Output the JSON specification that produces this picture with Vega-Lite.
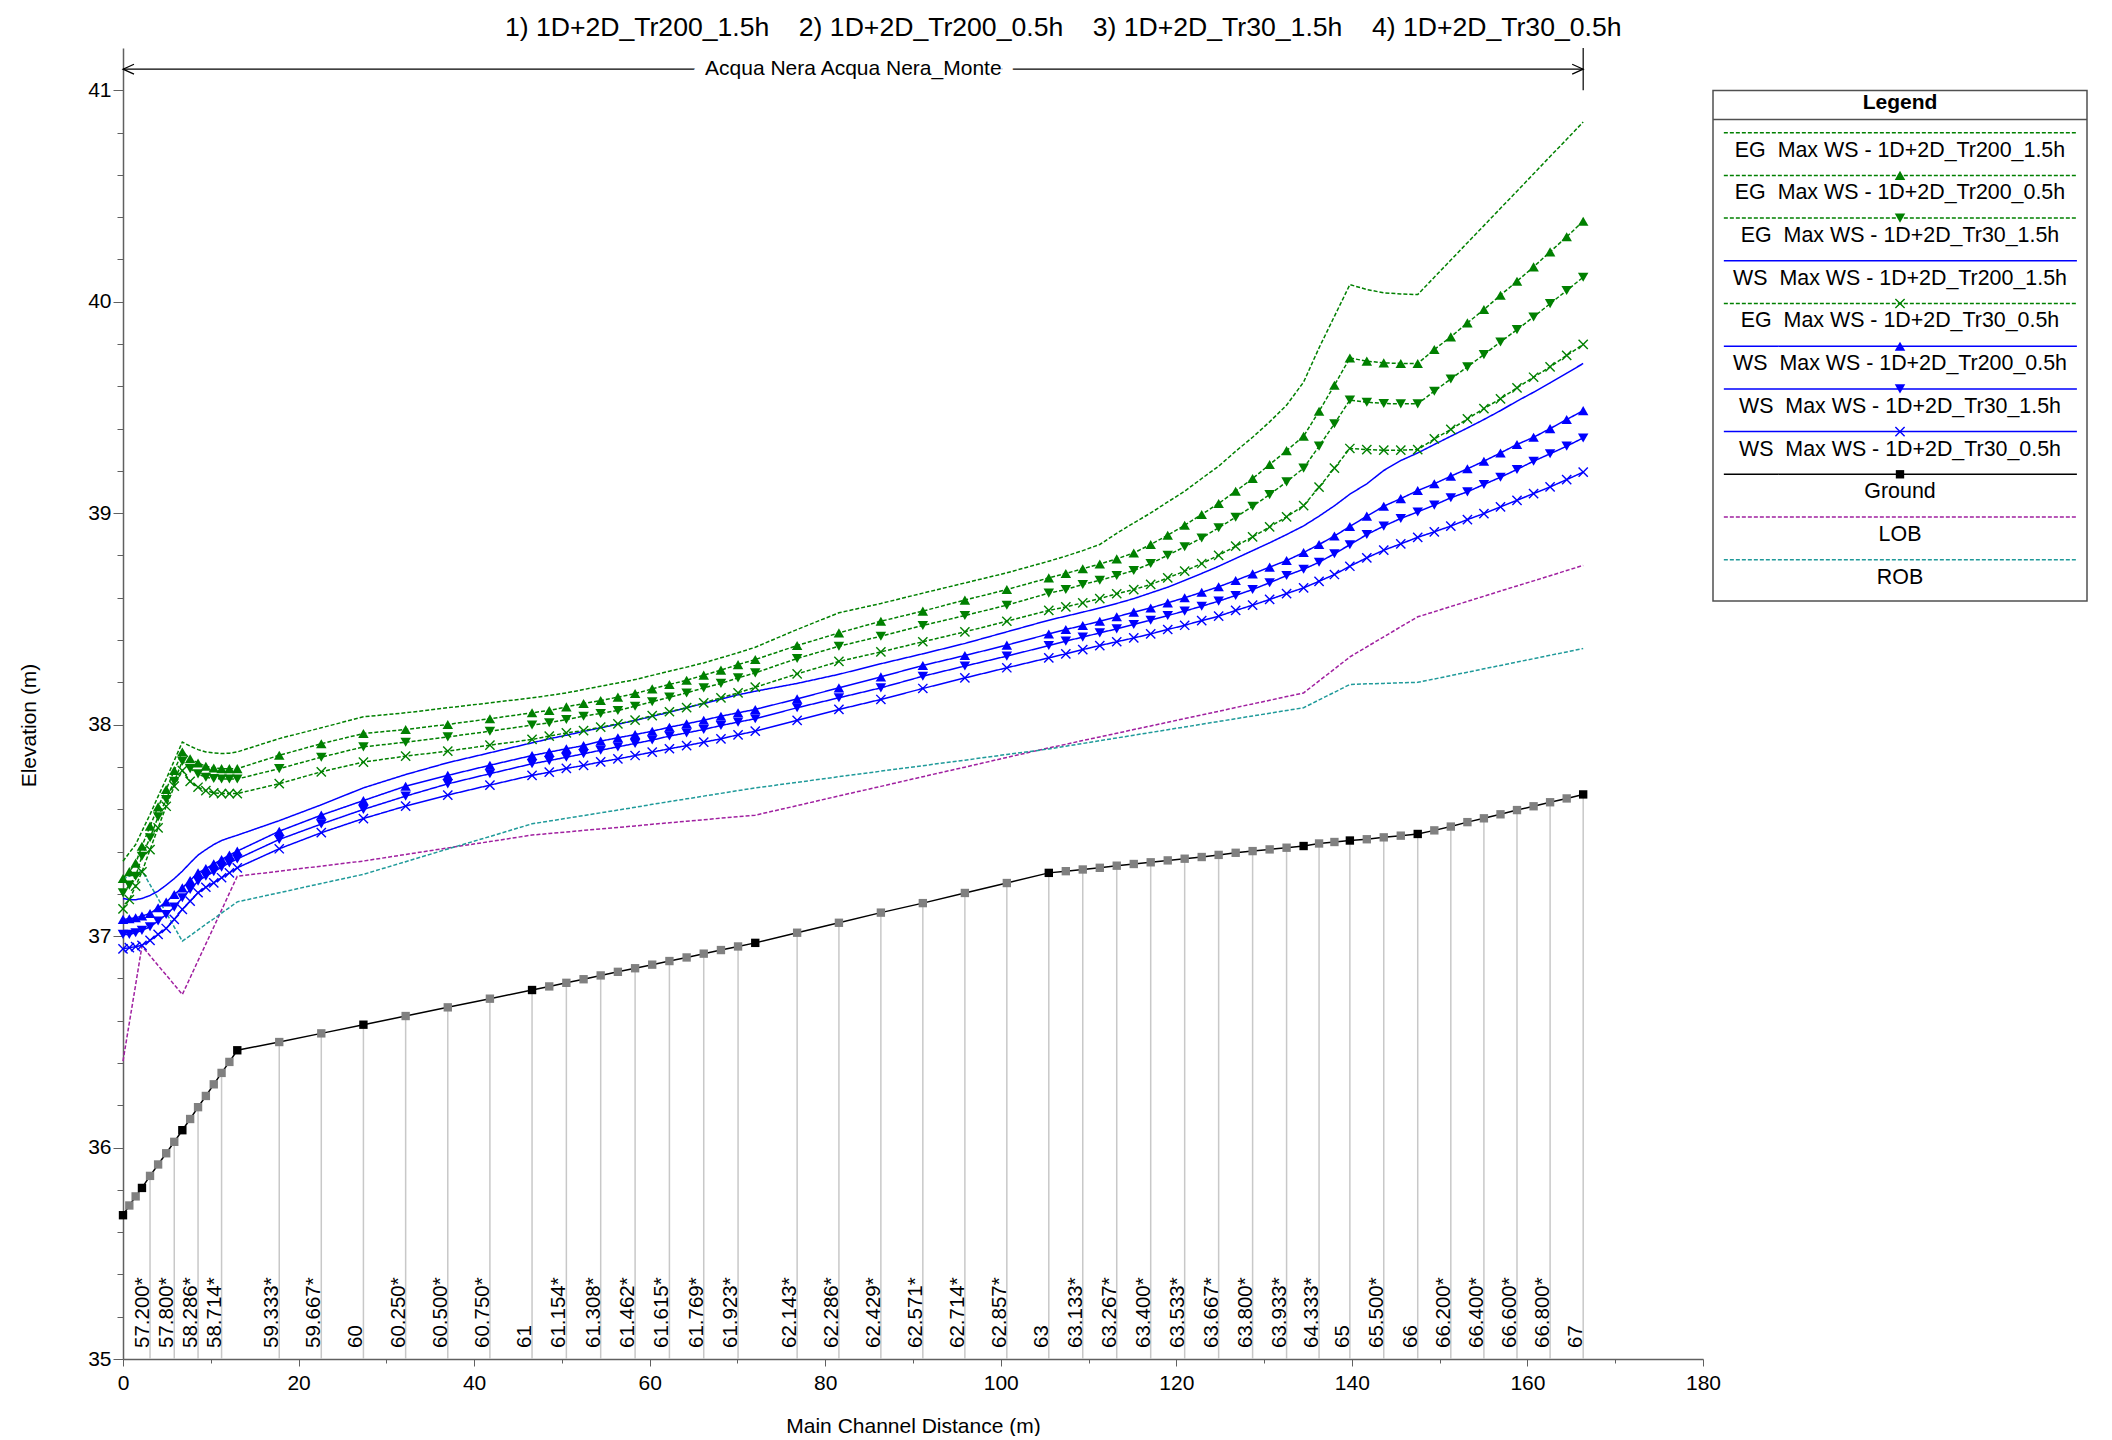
{
  "$schema": "https://vega.github.io/schema/vega-lite/v6.json",
  "background": "white",
  "padding": {"left": 18, "top": 14, "right": 5, "bottom": 0},
  "bounds": "flush",
  "title": {
    "text": "1) 1D+2D_Tr200_1.5h\u00a0\u00a0\u00a0 2) 1D+2D_Tr200_0.5h\u00a0\u00a0\u00a0 3) 1D+2D_Tr30_1.5h\u00a0\u00a0\u00a0 4) 1D+2D_Tr30_0.5h",
    "fontSize": 26.6, "fontWeight": "normal", "font": "Liberation Sans", "color": "black",
    "anchor": "middle", "offset": 6, "dx": 10
  },
  "datasets": {
    "stations": [
      {"dist": 0, "kind": "XS", "ground": 35.68, "eg200_15": 37.354, "eg200_05": 37.272, "eg30_15": 37.205, "eg30_05": 37.129, "ws200_15": 37.178, "ws200_05": 37.079, "ws30_15": 37.008, "ws30_05": 36.94, "lob": 36.409, "rob": 37.27},
      {"dist": 0.72, "kind": "Interpolated", "ground": 35.726, "eg200_15": 37.394, "eg200_05": 37.305, "eg30_15": 37.241, "eg30_05": 37.173, "ws200_15": 37.172, "ws200_05": 37.082, "ws30_15": 37.008, "ws30_05": 36.945, "lob": 36.59, "rob": 37.283},
      {"dist": 1.44, "kind": "Interpolated", "ground": 35.769, "eg200_15": 37.433, "eg200_05": 37.345, "eg30_15": 37.283, "eg30_05": 37.236, "ws200_15": 37.172, "ws200_05": 37.087, "ws30_15": 37.016, "ws30_05": 36.95, "lob": 36.77, "rob": 37.297},
      {"dist": 2.16, "kind": "XS", "ground": 35.809, "eg200_15": 37.496, "eg200_05": 37.425, "eg30_15": 37.378, "eg30_05": 37.304, "ws200_15": 37.178, "ws200_05": 37.095, "ws30_15": 37.027, "ws30_05": 36.956, "lob": 36.953, "rob": 37.31},
      {"dist": 3.08, "kind": "Interpolated", "label": "57.200*", "ground": 35.866, "eg200_15": 37.575, "eg200_05": 37.52, "eg30_15": 37.465, "eg30_05": 37.409, "ws200_15": 37.192, "ws200_05": 37.107, "ws30_15": 37.044, "ws30_05": 36.98, "lob": 36.907, "rob": 37.243},
      {"dist": 4.0, "kind": "Interpolated", "ground": 35.92, "eg200_15": 37.661, "eg200_05": 37.611, "eg30_15": 37.564, "eg30_05": 37.512, "ws200_15": 37.213, "ws200_05": 37.134, "ws30_15": 37.071, "ws30_05": 37.008, "lob": 36.861, "rob": 37.177},
      {"dist": 4.92, "kind": "Interpolated", "ground": 35.973, "eg200_15": 37.743, "eg200_05": 37.693, "eg30_15": 37.646, "eg30_05": 37.614, "ws200_15": 37.241, "ws200_05": 37.161, "ws30_15": 37.102, "ws30_05": 37.036, "lob": 36.816, "rob": 37.11},
      {"dist": 5.84, "kind": "Interpolated", "label": "57.800*", "ground": 36.027, "eg200_15": 37.83, "eg200_05": 37.783, "eg30_15": 37.732, "eg30_05": 37.709, "ws200_15": 37.272, "ws200_05": 37.197, "ws30_15": 37.137, "ws30_05": 37.079, "lob": 36.77, "rob": 37.043},
      {"dist": 6.76, "kind": "XS", "ground": 36.082, "eg200_15": 37.918, "eg200_05": 37.871, "eg30_15": 37.827, "eg30_05": 37.783, "ws200_15": 37.307, "ws200_05": 37.228, "ws30_15": 37.181, "ws30_05": 37.126, "lob": 36.724, "rob": 36.976},
      {"dist": 7.65, "kind": "Interpolated", "ground": 36.135, "eg200_15": 37.898, "eg200_05": 37.839, "eg30_15": 37.792, "eg30_05": 37.732, "ws200_15": 37.346, "ws200_05": 37.263, "ws30_15": 37.22, "ws30_05": 37.165, "lob": 36.803, "rob": 37.002},
      {"dist": 8.55, "kind": "Interpolated", "label": "58.286*", "ground": 36.191, "eg200_15": 37.882, "eg200_05": 37.819, "eg30_15": 37.767, "eg30_05": 37.704, "ws200_15": 37.383, "ws200_05": 37.299, "ws30_15": 37.26, "ws30_05": 37.205, "lob": 36.884, "rob": 37.029},
      {"dist": 9.44, "kind": "Interpolated", "ground": 36.244, "eg200_15": 37.871, "eg200_05": 37.803, "eg30_15": 37.751, "eg30_05": 37.688, "ws200_15": 37.409, "ws200_05": 37.32, "ws30_15": 37.283, "ws30_05": 37.231, "lob": 36.963, "rob": 37.056},
      {"dist": 10.34, "kind": "Interpolated", "ground": 36.299, "eg200_15": 37.866, "eg200_05": 37.795, "eg30_15": 37.745, "eg30_05": 37.677, "ws200_15": 37.433, "ws200_05": 37.342, "ws30_15": 37.304, "ws30_05": 37.252, "lob": 37.043, "rob": 37.082},
      {"dist": 11.23, "kind": "Interpolated", "label": "58.714*", "ground": 36.353, "eg200_15": 37.863, "eg200_05": 37.792, "eg30_15": 37.743, "eg30_05": 37.674, "ws200_15": 37.452, "ws200_05": 37.362, "ws30_15": 37.326, "ws30_05": 37.276, "lob": 37.123, "rob": 37.109},
      {"dist": 12.12, "kind": "Interpolated", "ground": 36.405, "eg200_15": 37.865, "eg200_05": 37.792, "eg30_15": 37.743, "eg30_05": 37.674, "ws200_15": 37.465, "ws200_05": 37.383, "ws30_15": 37.346, "ws30_05": 37.299, "lob": 37.203, "rob": 37.135},
      {"dist": 13.02, "kind": "XS", "ground": 36.46, "eg200_15": 37.871, "eg200_05": 37.792, "eg30_15": 37.743, "eg30_05": 37.674, "ws200_15": 37.477, "ws200_05": 37.402, "ws30_15": 37.365, "ws30_05": 37.323, "lob": 37.283, "rob": 37.162},
      {"dist": 17.8, "kind": "Interpolated", "label": "59.333*", "ground": 36.499, "eg200_15": 37.934, "eg200_05": 37.855, "eg30_15": 37.792, "eg30_05": 37.721, "ws200_15": 37.546, "ws200_05": 37.496, "ws30_15": 37.457, "ws30_05": 37.413, "lob": 37.307, "rob": 37.205},
      {"dist": 22.59, "kind": "Interpolated", "label": "59.667*", "ground": 36.54, "eg200_15": 37.985, "eg200_05": 37.91, "eg30_15": 37.846, "eg30_05": 37.777, "ws200_15": 37.621, "ws200_05": 37.572, "ws30_15": 37.53, "ws30_05": 37.489, "lob": 37.331, "rob": 37.249},
      {"dist": 27.39, "kind": "XS", "label": "60", "ground": 36.581, "eg200_15": 38.037, "eg200_05": 37.958, "eg30_15": 37.895, "eg30_05": 37.823, "ws200_15": 37.701, "ws200_05": 37.641, "ws30_15": 37.599, "ws30_05": 37.556, "lob": 37.355, "rob": 37.292},
      {"dist": 32.2, "kind": "Interpolated", "label": "60.250*", "ground": 36.622, "eg200_15": 38.056, "eg200_05": 37.977, "eg30_15": 37.917, "eg30_05": 37.851, "ws200_15": 37.764, "ws200_05": 37.709, "ws30_15": 37.662, "ws30_05": 37.615, "lob": 37.386, "rob": 37.352},
      {"dist": 37.0, "kind": "Interpolated", "label": "60.500*", "ground": 36.663, "eg200_15": 38.08, "eg200_05": 38.001, "eg30_15": 37.942, "eg30_05": 37.875, "ws200_15": 37.82, "ws200_05": 37.76, "ws30_15": 37.72, "ws30_05": 37.667, "lob": 37.417, "rob": 37.412},
      {"dist": 41.8, "kind": "Interpolated", "label": "60.750*", "ground": 36.704, "eg200_15": 38.103, "eg200_05": 38.028, "eg30_15": 37.969, "eg30_05": 37.903, "ws200_15": 37.867, "ws200_05": 37.808, "ws30_15": 37.768, "ws30_05": 37.714, "lob": 37.447, "rob": 37.471},
      {"dist": 46.6, "kind": "XS", "label": "61", "ground": 36.745, "eg200_15": 38.127, "eg200_05": 38.056, "eg30_15": 37.998, "eg30_05": 37.93, "ws200_15": 37.914, "ws200_05": 37.854, "ws30_15": 37.815, "ws30_05": 37.76, "lob": 37.478, "rob": 37.531},
      {"dist": 48.56, "kind": "Interpolated", "ground": 36.762, "eg200_15": 38.138, "eg200_05": 38.067, "eg30_15": 38.009, "eg30_05": 37.946, "ws200_15": 37.933, "ws200_05": 37.87, "ws30_15": 37.83, "ws30_05": 37.775, "lob": 37.485, "rob": 37.544},
      {"dist": 50.51, "kind": "Interpolated", "label": "61.154*", "ground": 36.779, "eg200_15": 38.15, "eg200_05": 38.084, "eg30_15": 38.024, "eg30_05": 37.961, "ws200_15": 37.95, "ws200_05": 37.886, "ws30_15": 37.846, "ws30_05": 37.793, "lob": 37.492, "rob": 37.557},
      {"dist": 52.47, "kind": "Interpolated", "ground": 36.796, "eg200_15": 38.166, "eg200_05": 38.1, "eg30_15": 38.04, "eg30_05": 37.972, "ws200_15": 37.968, "ws200_05": 37.901, "ws30_15": 37.862, "ws30_05": 37.807, "lob": 37.5, "rob": 37.57},
      {"dist": 54.42, "kind": "Interpolated", "label": "61.308*", "ground": 36.814, "eg200_15": 38.182, "eg200_05": 38.114, "eg30_15": 38.053, "eg30_05": 37.988, "ws200_15": 37.985, "ws200_05": 37.922, "ws30_15": 37.879, "ws30_05": 37.824, "lob": 37.507, "rob": 37.583},
      {"dist": 56.38, "kind": "Interpolated", "ground": 36.831, "eg200_15": 38.197, "eg200_05": 38.13, "eg30_15": 38.067, "eg30_05": 38.004, "ws200_15": 38.002, "ws200_05": 37.938, "ws30_15": 37.895, "ws30_05": 37.838, "lob": 37.514, "rob": 37.596},
      {"dist": 58.34, "kind": "Interpolated", "label": "61.462*", "ground": 36.848, "eg200_15": 38.213, "eg200_05": 38.147, "eg30_15": 38.087, "eg30_05": 38.021, "ws200_15": 38.02, "ws200_05": 37.953, "ws30_15": 37.911, "ws30_05": 37.854, "lob": 37.521, "rob": 37.609},
      {"dist": 60.29, "kind": "Interpolated", "ground": 36.865, "eg200_15": 38.233, "eg200_05": 38.169, "eg30_15": 38.108, "eg30_05": 38.043, "ws200_15": 38.039, "ws200_05": 37.969, "ws30_15": 37.927, "ws30_05": 37.87, "lob": 37.529, "rob": 37.623},
      {"dist": 62.25, "kind": "Interpolated", "label": "61.615*", "ground": 36.882, "eg200_15": 38.253, "eg200_05": 38.19, "eg30_15": 38.13, "eg30_05": 38.061, "ws200_15": 38.059, "ws200_05": 37.988, "ws30_15": 37.946, "ws30_05": 37.886, "lob": 37.536, "rob": 37.636},
      {"dist": 64.21, "kind": "Interpolated", "ground": 36.899, "eg200_15": 38.272, "eg200_05": 38.21, "eg30_15": 38.15, "eg30_05": 38.08, "ws200_15": 38.08, "ws200_05": 38.004, "ws30_15": 37.961, "ws30_05": 37.901, "lob": 37.543, "rob": 37.649},
      {"dist": 66.16, "kind": "Interpolated", "label": "61.769*", "ground": 36.917, "eg200_15": 38.292, "eg200_05": 38.234, "eg30_15": 38.174, "eg30_05": 38.103, "ws200_15": 38.1, "ws200_05": 38.021, "ws30_15": 37.977, "ws30_05": 37.917, "lob": 37.55, "rob": 37.662},
      {"dist": 68.12, "kind": "Interpolated", "ground": 36.934, "eg200_15": 38.316, "eg200_05": 38.258, "eg30_15": 38.195, "eg30_05": 38.127, "ws200_15": 38.121, "ws200_05": 38.04, "ws30_15": 37.996, "ws30_05": 37.933, "lob": 37.558, "rob": 37.675},
      {"dist": 70.07, "kind": "Interpolated", "label": "61.923*", "ground": 36.951, "eg200_15": 38.34, "eg200_05": 38.284, "eg30_15": 38.221, "eg30_05": 38.15, "ws200_15": 38.141, "ws200_05": 38.056, "ws30_15": 38.012, "ws30_05": 37.952, "lob": 37.565, "rob": 37.688},
      {"dist": 72.03, "kind": "XS", "ground": 36.968, "eg200_15": 38.366, "eg200_05": 38.308, "eg30_15": 38.245, "eg30_05": 38.177, "ws200_15": 38.158, "ws200_05": 38.072, "ws30_15": 38.028, "ws30_05": 37.969, "lob": 37.572, "rob": 37.701},
      {"dist": 76.8, "kind": "Interpolated", "label": "62.143*", "ground": 37.016, "eg200_15": 38.45, "eg200_05": 38.374, "eg30_15": 38.313, "eg30_05": 38.24, "ws200_15": 38.195, "ws200_05": 38.122, "ws30_15": 38.08, "ws30_05": 38.02, "lob": 37.617, "rob": 37.727},
      {"dist": 81.56, "kind": "Interpolated", "label": "62.286*", "ground": 37.063, "eg200_15": 38.529, "eg200_05": 38.434, "eg30_15": 38.371, "eg30_05": 38.299, "ws200_15": 38.238, "ws200_05": 38.174, "ws30_15": 38.127, "ws30_05": 38.072, "lob": 37.663, "rob": 37.754},
      {"dist": 86.34, "kind": "Interpolated", "label": "62.429*", "ground": 37.111, "eg200_15": 38.573, "eg200_05": 38.489, "eg30_15": 38.418, "eg30_05": 38.344, "ws200_15": 38.288, "ws200_05": 38.226, "ws30_15": 38.174, "ws30_05": 38.119, "lob": 37.708, "rob": 37.78},
      {"dist": 91.12, "kind": "Interpolated", "label": "62.571*", "ground": 37.156, "eg200_15": 38.622, "eg200_05": 38.537, "eg30_15": 38.469, "eg30_05": 38.392, "ws200_15": 38.335, "ws200_05": 38.28, "ws30_15": 38.229, "ws30_05": 38.171, "lob": 37.754, "rob": 37.806},
      {"dist": 95.91, "kind": "Interpolated", "label": "62.714*", "ground": 37.204, "eg200_15": 38.67, "eg200_05": 38.589, "eg30_15": 38.516, "eg30_05": 38.439, "ws200_15": 38.384, "ws200_05": 38.327, "ws30_15": 38.277, "ws30_05": 38.221, "lob": 37.799, "rob": 37.832},
      {"dist": 100.69, "kind": "Interpolated", "label": "62.857*", "ground": 37.251, "eg200_15": 38.718, "eg200_05": 38.639, "eg30_15": 38.565, "eg30_05": 38.489, "ws200_15": 38.439, "ws200_05": 38.376, "ws30_15": 38.324, "ws30_05": 38.269, "lob": 37.845, "rob": 37.859},
      {"dist": 105.47, "kind": "XS", "label": "63", "ground": 37.299, "eg200_15": 38.773, "eg200_05": 38.694, "eg30_15": 38.622, "eg30_05": 38.54, "ws200_15": 38.494, "ws200_05": 38.429, "ws30_15": 38.374, "ws30_05": 38.316, "lob": 37.89, "rob": 37.885},
      {"dist": 107.41, "kind": "Interpolated", "ground": 37.307, "eg200_15": 38.797, "eg200_05": 38.715, "eg30_15": 38.639, "eg30_05": 38.557, "ws200_15": 38.513, "ws200_05": 38.45, "ws30_15": 38.395, "ws30_05": 38.335, "lob": 37.907, "rob": 37.898},
      {"dist": 109.34, "kind": "Interpolated", "label": "63.133*", "ground": 37.315, "eg200_15": 38.823, "eg200_05": 38.737, "eg30_15": 38.663, "eg30_05": 38.576, "ws200_15": 38.532, "ws200_05": 38.469, "ws30_15": 38.414, "ws30_05": 38.355, "lob": 37.925, "rob": 37.911},
      {"dist": 111.28, "kind": "Interpolated", "ground": 37.323, "eg200_15": 38.852, "eg200_05": 38.76, "eg30_15": 38.683, "eg30_05": 38.596, "ws200_15": 38.552, "ws200_05": 38.489, "ws30_15": 38.434, "ws30_05": 38.374, "lob": 37.942, "rob": 37.924},
      {"dist": 113.21, "kind": "Interpolated", "label": "63.267*", "ground": 37.333, "eg200_15": 38.905, "eg200_05": 38.784, "eg30_15": 38.705, "eg30_05": 38.619, "ws200_15": 38.573, "ws200_05": 38.51, "ws30_15": 38.453, "ws30_05": 38.392, "lob": 37.959, "rob": 37.937},
      {"dist": 115.15, "kind": "Interpolated", "ground": 37.341, "eg200_15": 38.954, "eg200_05": 38.812, "eg30_15": 38.729, "eg30_05": 38.639, "ws200_15": 38.596, "ws200_05": 38.532, "ws30_15": 38.474, "ws30_05": 38.41, "lob": 37.977, "rob": 37.95},
      {"dist": 117.08, "kind": "Interpolated", "label": "63.400*", "ground": 37.349, "eg200_15": 39.001, "eg200_05": 38.852, "eg30_15": 38.762, "eg30_05": 38.663, "ws200_15": 38.623, "ws200_05": 38.552, "ws30_15": 38.494, "ws30_05": 38.429, "lob": 37.994, "rob": 37.963},
      {"dist": 119.02, "kind": "Interpolated", "ground": 37.358, "eg200_15": 39.053, "eg200_05": 38.896, "eg30_15": 38.801, "eg30_05": 38.694, "ws200_15": 38.65, "ws200_05": 38.576, "ws30_15": 38.516, "ws30_05": 38.45, "lob": 38.011, "rob": 37.976},
      {"dist": 120.95, "kind": "Interpolated", "label": "63.533*", "ground": 37.366, "eg200_15": 39.104, "eg200_05": 38.943, "eg30_15": 38.841, "eg30_05": 38.726, "ws200_15": 38.682, "ws200_05": 38.6, "ws30_15": 38.537, "ws30_05": 38.47, "lob": 38.029, "rob": 37.989},
      {"dist": 122.89, "kind": "Interpolated", "ground": 37.374, "eg200_15": 39.164, "eg200_05": 38.994, "eg30_15": 38.883, "eg30_05": 38.762, "ws200_15": 38.715, "ws200_05": 38.626, "ws30_15": 38.56, "ws30_05": 38.492, "lob": 38.046, "rob": 38.002},
      {"dist": 124.82, "kind": "Interpolated", "label": "63.667*", "ground": 37.384, "eg200_15": 39.222, "eg200_05": 39.046, "eg30_15": 38.931, "eg30_05": 38.801, "ws200_15": 38.749, "ws200_05": 38.652, "ws30_15": 38.584, "ws30_05": 38.513, "lob": 38.063, "rob": 38.015},
      {"dist": 126.76, "kind": "Interpolated", "ground": 37.394, "eg200_15": 39.293, "eg200_05": 39.104, "eg30_15": 38.981, "eg30_05": 38.844, "ws200_15": 38.786, "ws200_05": 38.682, "ws30_15": 38.611, "ws30_05": 38.54, "lob": 38.081, "rob": 38.028},
      {"dist": 128.69, "kind": "Interpolated", "label": "63.800*", "ground": 37.402, "eg200_15": 39.359, "eg200_05": 39.164, "eg30_15": 39.033, "eg30_05": 38.888, "ws200_15": 38.823, "ws200_05": 38.713, "ws30_15": 38.639, "ws30_05": 38.565, "lob": 38.098, "rob": 38.041},
      {"dist": 130.63, "kind": "Interpolated", "ground": 37.41, "eg200_15": 39.432, "eg200_05": 39.23, "eg30_15": 39.088, "eg30_05": 38.935, "ws200_15": 38.86, "ws200_05": 38.745, "ws30_15": 38.671, "ws30_05": 38.592, "lob": 38.115, "rob": 38.054},
      {"dist": 132.56, "kind": "Interpolated", "label": "63.933*", "ground": 37.418, "eg200_15": 39.511, "eg200_05": 39.296, "eg30_15": 39.148, "eg30_05": 38.983, "ws200_15": 38.899, "ws200_05": 38.776, "ws30_15": 38.705, "ws30_05": 38.62, "lob": 38.133, "rob": 38.067},
      {"dist": 134.5, "kind": "XS", "ground": 37.426, "eg200_15": 39.62, "eg200_05": 39.364, "eg30_15": 39.213, "eg30_05": 39.036, "ws200_15": 38.94, "ws200_05": 38.814, "ws30_15": 38.735, "ws30_05": 38.647, "lob": 38.15, "rob": 38.08},
      {"dist": 136.26, "kind": "Interpolated", "label": "64.333*", "ground": 37.438, "eg200_15": 39.782, "eg200_05": 39.482, "eg30_15": 39.317, "eg30_05": 39.123, "ws200_15": 38.986, "ws200_05": 38.852, "ws30_15": 38.768, "ws30_05": 38.678, "lob": 38.207, "rob": 38.117},
      {"dist": 138.01, "kind": "Interpolated", "ground": 37.445, "eg200_15": 39.931, "eg200_05": 39.605, "eg30_15": 39.423, "eg30_05": 39.213, "ws200_15": 39.035, "ws200_05": 38.892, "ws30_15": 38.808, "ws30_05": 38.71, "lob": 38.263, "rob": 38.153},
      {"dist": 139.77, "kind": "XS", "label": "65", "ground": 37.452, "eg200_15": 40.081, "eg200_05": 39.734, "eg30_15": 39.535, "eg30_05": 39.306, "ws200_15": 39.09, "ws200_05": 38.937, "ws30_15": 38.851, "ws30_05": 38.749, "lob": 38.32, "rob": 38.19},
      {"dist": 141.7, "kind": "Interpolated", "ground": 37.458, "eg200_15": 40.058, "eg200_05": 39.719, "eg30_15": 39.525, "eg30_05": 39.301, "ws200_15": 39.139, "ws200_05": 38.986, "ws30_15": 38.899, "ws30_05": 38.789, "lob": 38.368, "rob": 38.193},
      {"dist": 143.63, "kind": "Interpolated", "label": "65.500*", "ground": 37.467, "eg200_15": 40.042, "eg200_05": 39.711, "eg30_15": 39.519, "eg30_05": 39.298, "ws200_15": 39.202, "ws200_05": 39.033, "ws30_15": 38.939, "ws30_05": 38.825, "lob": 38.415, "rob": 38.195},
      {"dist": 145.57, "kind": "Interpolated", "ground": 37.475, "eg200_15": 40.037, "eg200_05": 39.708, "eg30_15": 39.517, "eg30_05": 39.298, "ws200_15": 39.249, "ws200_05": 39.069, "ws30_15": 38.975, "ws30_05": 38.855, "lob": 38.463, "rob": 38.198},
      {"dist": 147.5, "kind": "XS", "label": "66", "ground": 37.483, "eg200_15": 40.034, "eg200_05": 39.708, "eg30_15": 39.517, "eg30_05": 39.301, "ws200_15": 39.285, "ws200_05": 39.107, "ws30_15": 39.006, "ws30_05": 38.886, "lob": 38.51, "rob": 38.2},
      {"dist": 149.39, "kind": "Interpolated", "ground": 37.5, "eg200_15": 40.116, "eg200_05": 39.774, "eg30_15": 39.577, "eg30_05": 39.351, "ws200_15": 39.325, "ws200_05": 39.139, "ws30_15": 39.038, "ws30_05": 38.912, "lob": 38.534, "rob": 38.216},
      {"dist": 151.27, "kind": "Interpolated", "label": "66.200*", "ground": 37.518, "eg200_15": 40.197, "eg200_05": 39.834, "eg30_15": 39.635, "eg30_05": 39.396, "ws200_15": 39.364, "ws200_05": 39.175, "ws30_15": 39.073, "ws30_05": 38.939, "lob": 38.559, "rob": 38.232},
      {"dist": 153.16, "kind": "Interpolated", "ground": 37.539, "eg200_15": 40.279, "eg200_05": 39.9, "eg30_15": 39.692, "eg30_05": 39.446, "ws200_15": 39.403, "ws200_05": 39.21, "ws30_15": 39.101, "ws30_05": 38.97, "lob": 38.583, "rob": 38.248},
      {"dist": 155.04, "kind": "Interpolated", "label": "66.400*", "ground": 37.557, "eg200_15": 40.36, "eg200_05": 39.963, "eg30_15": 39.75, "eg30_05": 39.495, "ws200_15": 39.443, "ws200_05": 39.246, "ws30_15": 39.136, "ws30_05": 38.998, "lob": 38.607, "rob": 38.264},
      {"dist": 156.93, "kind": "Interpolated", "ground": 37.576, "eg200_15": 40.442, "eg200_05": 40.031, "eg30_15": 39.81, "eg30_05": 39.541, "ws200_15": 39.485, "ws200_05": 39.285, "ws30_15": 39.17, "ws30_05": 39.03, "lob": 38.632, "rob": 38.28},
      {"dist": 158.81, "kind": "Interpolated", "label": "66.600*", "ground": 37.596, "eg200_15": 40.523, "eg200_05": 40.097, "eg30_15": 39.868, "eg30_05": 39.593, "ws200_15": 39.53, "ws200_05": 39.325, "ws30_15": 39.207, "ws30_05": 39.061, "lob": 38.656, "rob": 38.296},
      {"dist": 160.7, "kind": "Interpolated", "ground": 37.614, "eg200_15": 40.605, "eg200_05": 40.165, "eg30_15": 39.928, "eg30_05": 39.643, "ws200_15": 39.572, "ws200_05": 39.359, "ws30_15": 39.246, "ws30_05": 39.093, "lob": 38.68, "rob": 38.312},
      {"dist": 162.58, "kind": "Interpolated", "label": "66.800*", "ground": 37.633, "eg200_15": 40.687, "eg200_05": 40.236, "eg30_15": 39.991, "eg30_05": 39.692, "ws200_15": 39.616, "ws200_05": 39.4, "ws30_15": 39.281, "ws30_05": 39.124, "lob": 38.704, "rob": 38.328},
      {"dist": 164.47, "kind": "Interpolated", "ground": 37.651, "eg200_15": 40.768, "eg200_05": 40.307, "eg30_15": 40.053, "eg30_05": 39.746, "ws200_15": 39.662, "ws200_05": 39.443, "ws30_15": 39.317, "ws30_05": 39.159, "lob": 38.729, "rob": 38.344},
      {"dist": 166.35, "kind": "XS", "label": "67", "ground": 37.67, "eg200_15": 40.85, "eg200_05": 40.381, "eg30_15": 40.116, "eg30_05": 39.798, "ws200_15": 39.708, "ws200_05": 39.485, "ws30_15": 39.356, "ws30_05": 39.194, "lob": 38.753, "rob": 38.36}
    ],
    "legend": [
      {"pos": 0, "key": "eg200_15", "name": "EG\u00a0 Max WS - 1D+2D_Tr200_1.5h"},
      {"pos": 1, "key": "eg200_05", "name": "EG\u00a0 Max WS - 1D+2D_Tr200_0.5h"},
      {"pos": 2, "key": "eg30_15", "name": "EG\u00a0 Max WS - 1D+2D_Tr30_1.5h"},
      {"pos": 3, "key": "ws200_15", "name": "WS\u00a0 Max WS - 1D+2D_Tr200_1.5h"},
      {"pos": 4, "key": "eg30_05", "name": "EG\u00a0 Max WS - 1D+2D_Tr30_0.5h"},
      {"pos": 5, "key": "ws200_05", "name": "WS\u00a0 Max WS - 1D+2D_Tr200_0.5h"},
      {"pos": 6, "key": "ws30_15", "name": "WS\u00a0 Max WS - 1D+2D_Tr30_1.5h"},
      {"pos": 7, "key": "ws30_05", "name": "WS\u00a0 Max WS - 1D+2D_Tr30_0.5h"},
      {"pos": 8, "key": "ground", "name": "Ground"},
      {"pos": 9, "key": "lob", "name": "LOB"},
      {"pos": 10, "key": "rob", "name": "ROB"}
    ],
    "reach": [
      {"name": "Acqua Nera Acqua Nera_Monte", "start": 0, "end": 166.35}
    ]
  },
  "spacing": 10,
  "hconcat": [
    {
      "width": 1580,
      "height": 1311,
      "layer": [
        {
          "data": {"name": "stations"},
          "transform": [{"filter": "isValid(datum.label)"}],
          "mark": {"type": "rule", "color": "#c8c8c8", "strokeWidth": 1.5},
          "encoding": {
            "x": {
              "field": "dist", "type": "quantitative",
              "scale": {"domain": [0, 180], "nice": false},
              "title": "Main Channel Distance (m)",
              "axis": {
                "values": [0, 10, 20, 30, 40, 50, 60, 70, 80, 90, 100, 110, 120, 130, 140, 150, 160, 170, 180],
                "labelExpr": "datum.value % 20 === 0 ? datum.label : ''",
                "tickSize": {"condition": {"test": "datum.value % 20 !== 0", "value": 4}, "value": 7},
                "labelPadding": 6, "titlePadding": 22, "grid": false,
                "domainColor": "#606060", "tickColor": "#606060", "domainWidth": 1.5,
                "labelFontSize": 21, "titleFontSize": 21, "labelFont": "Liberation Sans", "titleFont": "Liberation Sans",
                "titleFontWeight": "normal", "labelColor": "black", "titleColor": "black",
                "labelFlush": false, "labelOverlap": false
              }
            },
            "y": {
              "field": "ground", "type": "quantitative",
              "scale": {"domain": [35, 41.2], "nice": false, "zero": false},
              "title": "Elevation (m)",
              "axis": {
                "values": [35, 35.2, 35.4, 35.6, 35.8, 36, 36.2, 36.4, 36.6, 36.8, 37, 37.2, 37.4, 37.6, 37.8, 38, 38.2, 38.4, 38.6, 38.8, 39, 39.2, 39.4, 39.6, 39.8, 40, 40.2, 40.4, 40.6, 40.8, 41],
                "format": ".0f",
                "labelExpr": "abs(datum.value - round(datum.value)) < 0.01 ? datum.label : ''",
                "tickSize": {"condition": {"test": "abs(datum.value - round(datum.value)) > 0.01", "value": 6}, "value": 10},
                "labelPadding": 2, "titlePadding": 48, "titleY": 677, "grid": false,
                "domainColor": "#606060", "tickColor": "#606060", "domainWidth": 1.5,
                "labelFontSize": 21, "titleFontSize": 21, "labelFont": "Liberation Sans", "titleFont": "Liberation Sans",
                "titleFontWeight": "normal", "labelColor": "black", "titleColor": "black",
                "labelFlush": false, "labelOverlap": false
              }
            },
            "y2": {"datum": 35}
          }
        },
        {
          "data": {"name": "stations"},
          "transform": [{"filter": "isValid(datum.label)"}],
          "mark": {"type": "text", "angle": 270, "align": "left", "baseline": "alphabetic", "dx": 11, "dy": -1, "font": "Liberation Sans", "fontSize": 20.5, "color": "black"},
          "encoding": {
            "x": {"field": "dist", "type": "quantitative"},
            "y": {"datum": 35},
            "text": {"field": "label"}
          }
        },
        {
          "data": {"name": "stations"},
          "transform": [{"fold": ["lob", "rob", "ws200_15", "ws200_05", "ws30_15", "ws30_05", "eg200_15", "eg200_05", "eg30_15", "eg30_05"], "as": ["series", "elev"]}],
          "mark": {"type": "line", "strokeWidth": 1.5},
          "encoding": {
            "x": {"field": "dist", "type": "quantitative"},
            "y": {"field": "elev", "type": "quantitative"},
            "color": {
              "field": "series", "type": "nominal", "legend": null,
              "scale": {
                "domain": ["eg200_15", "eg200_05", "eg30_15", "ws200_15", "eg30_05", "ws200_05", "ws30_15", "ws30_05", "ground", "lob", "rob"],
                "range": ["#008000", "#008000", "#008000", "#0000ff", "#008000", "#0000ff", "#0000ff", "#0000ff", "#000000", "#a020a0", "#1f9a9a"]
              }
            },
            "strokeDash": {
              "field": "series", "type": "nominal", "legend": null,
              "scale": {
                "domain": ["eg200_15", "eg200_05", "eg30_15", "ws200_15", "eg30_05", "ws200_05", "ws30_15", "ws30_05", "ground", "lob", "rob"],
                "range": [[4, 2], [4, 2], [4, 2], [1, 0], [4, 2], [1, 0], [1, 0], [1, 0], [1, 0], [4, 2], [4, 2]]
              }
            }
          }
        },
        {
          "data": {"name": "stations"},
          "mark": {"type": "line", "color": "black", "strokeWidth": 1.5},
          "encoding": {
            "x": {"field": "dist", "type": "quantitative"},
            "y": {"field": "ground", "type": "quantitative"}
          }
        },
        {
          "data": {"name": "stations"},
          "transform": [{"filter": "datum.kind === 'Interpolated'"}],
          "mark": {"type": "square", "color": "#808080", "size": 70, "opacity": 1},
          "encoding": {
            "x": {"field": "dist", "type": "quantitative"},
            "y": {"field": "ground", "type": "quantitative"}
          }
        },
        {
          "data": {"name": "stations"},
          "transform": [{"filter": "datum.kind === 'XS'"}],
          "mark": {"type": "square", "color": "black", "size": 70, "opacity": 1},
          "encoding": {
            "x": {"field": "dist", "type": "quantitative"},
            "y": {"field": "ground", "type": "quantitative"}
          }
        },
        {
          "data": {"name": "stations"},
          "transform": [{"fold": ["ws200_05", "ws30_15", "eg200_05", "eg30_15"], "as": ["series", "elev"]}],
          "mark": {"type": "point", "filled": true, "size": 110, "opacity": 1},
          "encoding": {
            "x": {"field": "dist", "type": "quantitative"},
            "y": {"field": "elev", "type": "quantitative"},
            "color": {"field": "series", "type": "nominal", "legend": null},
            "shape": {
              "field": "series", "type": "nominal", "legend": null,
              "scale": {
                "domain": ["eg200_05", "eg30_15", "eg30_05", "ws200_05", "ws30_15", "ws30_05", "ground"],
                "range": ["triangle-up", "triangle-down", "M-1,-1L1,1M-1,1L1,-1", "triangle-up", "triangle-down", "M-1,-1L1,1M-1,1L1,-1", "square"]
              }
            }
          }
        },
        {
          "data": {"name": "stations"},
          "transform": [{"fold": ["ws30_05", "eg30_05"], "as": ["series", "elev"]}],
          "mark": {"type": "point", "filled": false, "size": 85, "strokeWidth": 1.4, "opacity": 1},
          "encoding": {
            "x": {"field": "dist", "type": "quantitative"},
            "y": {"field": "elev", "type": "quantitative"},
            "color": {"field": "series", "type": "nominal", "legend": null},
            "shape": {"field": "series", "type": "nominal", "legend": null}
          }
        },
        {
          "data": {"name": "reach"},
          "mark": {"type": "rule", "color": "black", "strokeWidth": 1.2},
          "encoding": {
            "x": {"field": "start", "type": "quantitative"},
            "x2": {"field": "end"},
            "y": {"datum": 41.1}
          }
        },
        {
          "data": {"name": "reach"},
          "mark": {"type": "text", "font": "Liberation Sans", "fontSize": 21, "baseline": "middle", "fill": "white", "stroke": "white", "strokeWidth": 24, "strokeJoin": "round"},
          "encoding": {
            "x": {"datum": 83.2},
            "y": {"datum": 41.1},
            "text": {"field": "name"}
          }
        },
        {
          "data": {"name": "reach"},
          "mark": {"type": "text", "font": "Liberation Sans", "fontSize": 21, "baseline": "middle", "color": "black"},
          "encoding": {
            "x": {"datum": 83.2},
            "y": {"datum": 41.1},
            "text": {"field": "name"}
          }
        },
        {
          "data": {"name": "reach"},
          "mark": {"type": "rule", "color": "black", "strokeWidth": 1.2},
          "encoding": {
            "x": {"field": "end", "type": "quantitative"},
            "y": {"datum": 41.0},
            "y2": {"datum": 41.2}
          }
        },
        {
          "data": {"name": "reach"},
          "mark": {"type": "point", "shape": "M2,-0.9L0,0L2,0.9", "size": 121, "filled": false, "color": "black", "strokeWidth": 1.2, "opacity": 1},
          "encoding": {
            "x": {"field": "start", "type": "quantitative"},
            "y": {"datum": 41.1}
          }
        },
        {
          "data": {"name": "reach"},
          "mark": {"type": "point", "shape": "M-2,-0.9L0,0L-2,0.9", "size": 121, "filled": false, "color": "black", "strokeWidth": 1.2, "opacity": 1},
          "encoding": {
            "x": {"field": "end", "type": "quantitative"},
            "y": {"datum": 41.1}
          }
        }
      ]
    },
    {
      "width": 374,
      "height": 554,
      "layer": [
        {
          "data": {"values": [{"text": "Legend"}]},
          "mark": {"type": "rect", "filled": false, "color": "#505050", "strokeWidth": 1.5},
          "encoding": {
            "x": {"datum": 0, "type": "quantitative", "scale": {"domain": [0, 1], "nice": false, "zero": false}, "axis": null},
            "x2": {"datum": 1},
            "y": {"datum": -0.986, "type": "quantitative", "scale": {"domain": [-1.9836, 10.991], "nice": false, "zero": false, "reverse": true}, "axis": null},
            "y2": {"datum": 10.97}
          }
        },
        {
          "data": {"values": [{"text": "Legend"}]},
          "mark": {"type": "rule", "color": "#505050", "strokeWidth": 1.5},
          "encoding": {
            "x": {"datum": 0, "type": "quantitative", "axis": null},
            "x2": {"datum": 1},
            "y": {"datum": -0.309, "type": "quantitative", "axis": null}
          }
        },
        {
          "data": {"values": [{"text": "Legend"}]},
          "mark": {"type": "text", "font": "Liberation Sans", "fontSize": 21, "fontWeight": "bold", "baseline": "middle", "color": "black"},
          "encoding": {
            "x": {"datum": 0.5, "type": "quantitative", "axis": null},
            "y": {"datum": -0.686, "type": "quantitative", "axis": null},
            "text": {"field": "text"}
          }
        },
        {
          "data": {"name": "legend"},
          "mark": {"type": "rule", "strokeWidth": 1.5},
          "encoding": {
            "x": {"datum": 0.029, "type": "quantitative", "axis": null},
            "x2": {"datum": 0.973},
            "y": {"field": "pos", "type": "quantitative", "axis": null},
            "color": {"field": "key", "type": "nominal", "legend": null},
            "strokeDash": {"field": "key", "type": "nominal", "legend": null}
          }
        },
        {
          "data": {"name": "legend"},
          "transform": [{"filter": {"field": "key", "oneOf": ["eg200_05", "eg30_15", "ws200_05", "ws30_15"]}}],
          "mark": {"type": "point", "filled": true, "size": 110, "opacity": 1},
          "encoding": {
            "x": {"datum": 0.5, "type": "quantitative", "axis": null},
            "y": {"field": "pos", "type": "quantitative", "axis": null},
            "color": {"field": "key", "type": "nominal", "legend": null},
            "shape": {"field": "key", "type": "nominal", "legend": null}
          }
        },
        {
          "data": {"name": "legend"},
          "transform": [{"filter": {"field": "key", "oneOf": ["eg30_05", "ws30_05"]}}],
          "mark": {"type": "point", "filled": false, "size": 85, "strokeWidth": 1.4, "opacity": 1},
          "encoding": {
            "x": {"datum": 0.5, "type": "quantitative", "axis": null},
            "y": {"field": "pos", "type": "quantitative", "axis": null},
            "color": {"field": "key", "type": "nominal", "legend": null},
            "shape": {"field": "key", "type": "nominal", "legend": null}
          }
        },
        {
          "data": {"name": "legend"},
          "transform": [{"filter": "datum.key === 'ground'"}],
          "mark": {"type": "square", "color": "black", "size": 70, "opacity": 1},
          "encoding": {
            "x": {"datum": 0.5, "type": "quantitative", "axis": null},
            "y": {"field": "pos", "type": "quantitative", "axis": null}
          }
        },
        {
          "data": {"name": "legend"},
          "mark": {"type": "text", "font": "Liberation Sans", "fontSize": 21.4, "baseline": "middle", "dy": 18, "color": "black"},
          "encoding": {
            "x": {"datum": 0.5, "type": "quantitative", "axis": null},
            "y": {"field": "pos", "type": "quantitative", "axis": null},
            "text": {"field": "name"}
          }
        }
      ]
    }
  ],
  "config": {
    "font": "Liberation Sans",
    "view": {"stroke": null},
    "legend": {"disable": true},
    "axis": {"grid": false}
  }
}
